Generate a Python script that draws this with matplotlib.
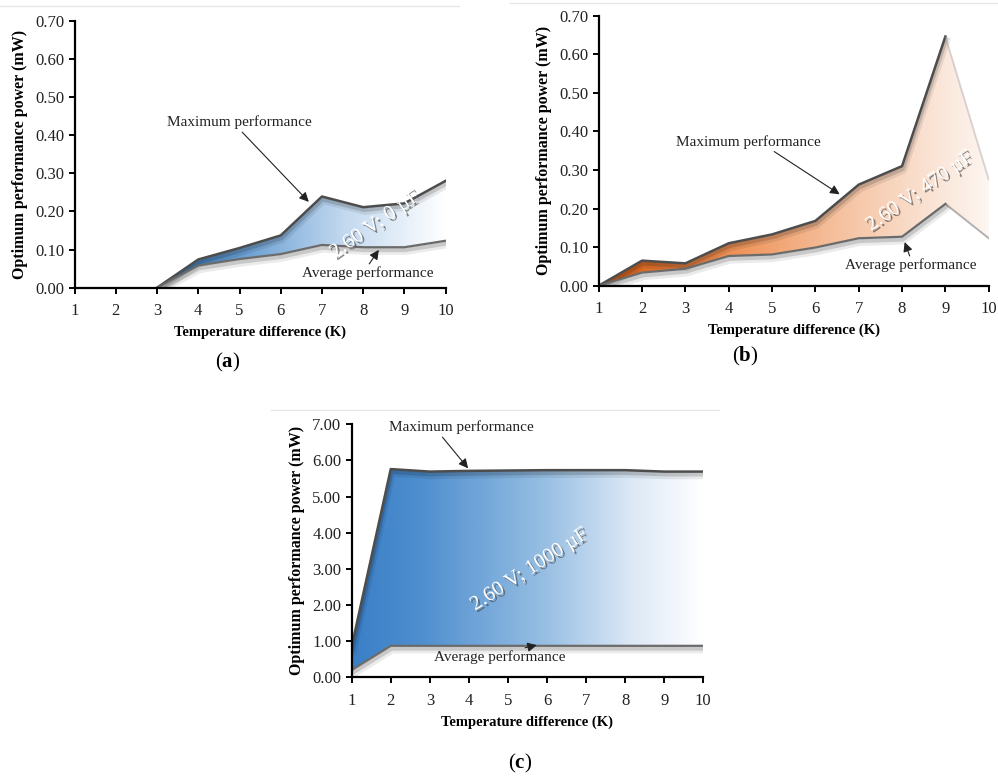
import numpy as np
import matplotlib
matplotlib.use("Agg")
import matplotlib.pyplot as plt
import matplotlib.patheffects as pe
from matplotlib.colors import LinearSegmentedColormap
from matplotlib.patches import Polygon
from matplotlib.lines import Line2D
from matplotlib.ticker import FormatStrFormatter, MultipleLocator

plt.rcParams['font.family'] = ['Liberation Serif', 'DejaVu Serif']
plt.rcParams['mathtext.fontset'] = 'custom'
plt.rcParams['mathtext.rm'] = 'Liberation Serif'
plt.rcParams['mathtext.bf'] = 'Liberation Serif:bold'

# temperature difference (K)
dT = np.arange(1, 11)

# (a) 2.60 V; 0 uF
max_a = np.array([0, 0, 0, 0.074, 0.104, 0.137, 0.239, 0.211, 0.221, 0.280])
avg_a = np.array([0, 0, 0, 0.058, 0.075, 0.088, 0.112, 0.106, 0.106, 0.123])

# (b) 2.60 V; 470 uF
max_b = np.array([0, 0.065, 0.058, 0.110, 0.133, 0.168, 0.262, 0.310, 0.646, 0.275])
avg_b = np.array([0, 0.034, 0.044, 0.077, 0.081, 0.099, 0.123, 0.127, 0.212, 0.123])

# (c) 2.60 V; 1000 uF
max_c = np.array([0.85, 5.76, 5.69, 5.71, 5.72, 5.73, 5.73, 5.73, 5.69, 5.69])
avg_c = np.array([0.20, 0.87, 0.87, 0.87, 0.87, 0.87, 0.87, 0.87, 0.87, 0.87])

ylab = "Optimum performance power (mW)"
xlab = "Temperature difference (K)"

fig = plt.figure(figsize=(9.98, 7.8), dpi=100)
axa = fig.add_axes([0.0748, 0.6312, 0.3717, 0.3423])
axb = fig.add_axes([0.5999, 0.6337, 0.3908, 0.3462])
axc = fig.add_axes([0.3524, 0.1317, 0.3523, 0.3244])

shadow = [pe.SimpleLineShadow(offset=(1, -3), shadow_color='k', alpha=0.08, linewidth=5),
          pe.SimpleLineShadow(offset=(0.5, -2), shadow_color='k', alpha=0.15, linewidth=3),
          pe.Normal()]
txt_shadow = [pe.withSimplePatchShadow(offset=(1.5, -1.5), shadow_rgbFace='#555555', alpha=0.7)]


def panel(ax, x, hi, lo, s, ymax, ystep, cols, fade, label, lpos, lrot,
          max_txt, max_arr, avg_txt, avg_arr):
    x = x[s:]
    hi = hi[s:]
    lo = lo[s:]
    verts = np.concatenate([np.column_stack([x, hi]), np.column_stack([x[::-1], lo[::-1]])])
    poly = Polygon(verts, closed=True, fc='none', ec='none', transform=ax.transData)
    ax.add_patch(poly)
    cmap = LinearSegmentedColormap.from_list('g', cols)
    grad = np.linspace(0, 1, 256).reshape(1, -1)
    im = ax.imshow(grad, extent=[x[0], x[-1], 0, ymax], aspect='auto', cmap=cmap,
                   origin='lower', zorder=1, interpolation='bicubic')
    im.set_clip_path(poly)
    n = len(x) - fade
    ax.plot(x[:n], hi[:n], color='#4d4d4d', lw=1.8, zorder=3, solid_joinstyle='round',
            path_effects=shadow)
    ax.plot(x[:n], lo[:n], color='#6b6b6b', lw=1.6, zorder=3, solid_joinstyle='round',
            path_effects=shadow)
    if fade:
        ax.plot(x[n - 1:], hi[n - 1:], color='#9a8e88', lw=1.4, alpha=0.35, zorder=3)
        ax.plot(x[n - 1:], lo[n - 1:], color='#6b6b6b', lw=1.4, alpha=0.5, zorder=3)

    ax.set_xlim(1, 10)
    ax.set_ylim(0, ymax)
    ax.xaxis.set_major_locator(MultipleLocator(1))
    ax.yaxis.set_major_locator(MultipleLocator(ystep))
    ax.yaxis.set_major_formatter(FormatStrFormatter('%.2f'))
    for sp in ['top', 'right']:
        ax.spines[sp].set_visible(False)
    for sp in ['left', 'bottom']:
        ax.spines[sp].set_linewidth(1.6)
        ax.spines[sp].set_zorder(5)
    ax.tick_params(direction='out', length=4, width=1.4, labelsize=12, colors='k',
                   labelcolor='#222222')
    ax.tick_params(axis='x', pad=7)
    ax.set_xlabel(xlab, fontsize=10.5, fontweight='bold', labelpad=5)
    ax.set_ylabel(ylab, fontsize=11.5, fontweight='bold', labelpad=5)

    ax.text(lpos[0], lpos[1], label, color='white', fontsize=15, rotation=lrot,
            ha='center', va='center', zorder=6, path_effects=txt_shadow)
    ax.annotate(max_txt, xy=max_arr[1], xytext=max_arr[0], fontsize=11, color='#222222',
                ha='center', va='bottom', zorder=6,
                arrowprops=dict(arrowstyle='-|>', color='#222222', lw=0.8,
                                mutation_scale=14, shrinkA=0, shrinkB=0,
                                relpos=max_arr[2]))
    ax.annotate(avg_txt, xy=avg_arr[1], xytext=avg_arr[0], fontsize=11, color='#222222',
                ha='center', va='top', zorder=6,
                arrowprops=dict(arrowstyle='-|>', color='#222222', lw=0.8,
                                mutation_scale=14, shrinkA=0, shrinkB=0,
                                relpos=avg_arr[2]))


panel(axa, dT, max_a, avg_a, 2, 0.70, 0.10,
      [(0, '#2f6fb0'), (0.3, '#6a9fd3'), (0.65, '#c3d9ef'), (1, '#ffffff')], 0,
      "2.60 V; 0 \u00b5F", (8.3, 0.165), 35,
      "Maximum performance", [(5.0, 0.415), (6.68, 0.225), (0.5, 0.0)],
      "Average performance", [(8.1, 0.055), (8.38, 0.099), (0.5, 1.0)])

panel(axb, dT, max_b, avg_b, 0, 0.70, 0.10,
      [(0, '#d35a12'), (0.35, '#ee9358'), (0.6, '#f5bf9c'), (0.85, '#fae3d4'), (1, '#fdf6f2')], 1,
      "2.60 V; 470 \u00b5F", (8.42, 0.245), 35,
      "Maximum performance", [(4.45, 0.355), (6.56, 0.237), (0.65, 0.0)],
      "Average performance", [(8.2, 0.07), (8.06, 0.113), (0.5, 1.0)])

panel(axc, dT, max_c, avg_c, 0, 7.00, 1.00,
      [(0, '#3a7fc6'), (0.2, '#4f8fcf'), (0.55, '#98bfe3'), (0.8, '#dde9f6'), (1, '#ffffff')], 0,
      "2.60 V; 1000 \u00b5F", (5.56, 2.97), 33,
      "Maximum performance", [(3.82, 6.72), (3.98, 5.78), (0.35, 0.0)],
      "Average performance", [(4.79, 0.74), (5.74, 0.89), (0.6, 1.0)])

# thin rules above each panel
for x0, x1, y in [(0.0, 0.46, 0.992), (0.511, 1.0, 0.996), (0.272, 0.72, 0.474)]:
    fig.add_artist(Line2D([x0, x1], [y, y], color='#e6e6e6', lw=1, transform=fig.transFigure))

for px, py, c in [(228, 362, 'a'), (745, 356, 'b'), (520, 763, 'c')]:
    fig.text(px / 998, 1 - py / 780, "(" + r"$\mathbf{" + c + "}$" + ")", fontsize=15,
             ha='center', va='center')

fig.savefig("out.png", dpi=100)
